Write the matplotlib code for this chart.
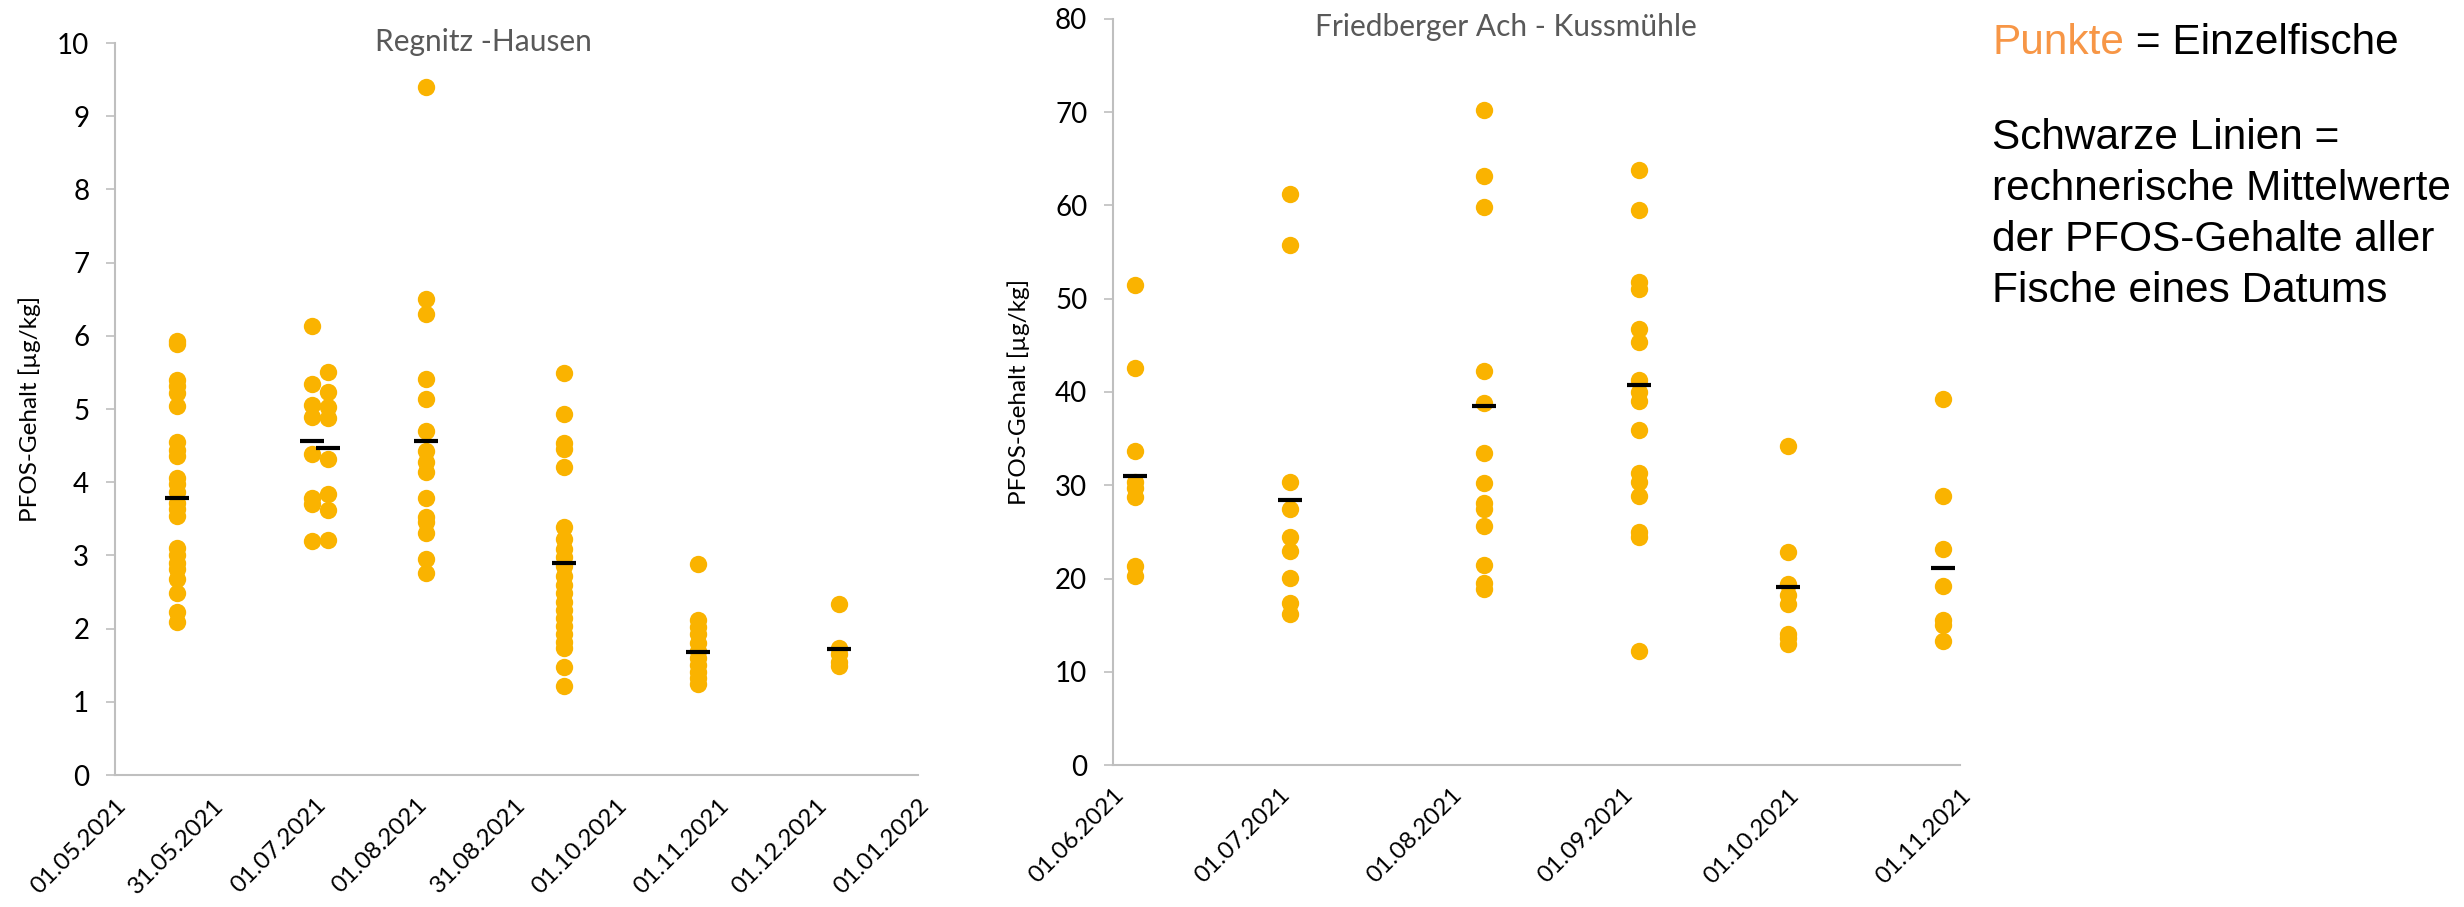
import datetime as dt

import matplotlib
matplotlib.use("Agg")
import matplotlib.pyplot as plt
from matplotlib.transforms import ScaledTranslation

plt.rcParams["font.family"] = ["Lato", "DejaVu Sans"]

DOT_COLOR = "#FAB300"
AXIS_COLOR = "#BFBFBF"
TITLE_COLOR = "#595959"

# Regnitz - Hausen: single fish per sampling date
regnitz_dates = ["20.05.2021", "30.06.2021", "05.07.2021", "04.08.2021",
                 "15.09.2021", "26.10.2021", "08.12.2021"]
regnitz_values = [
    [5.93, 5.89, 5.39, 5.32, 5.22, 5.04, 4.55, 4.44, 4.36, 4.06, 3.98, 3.87,
     3.72, 3.63, 3.54, 3.10, 3.01, 2.90, 2.81, 2.68, 2.48, 2.22, 2.09],
    [6.13, 5.34, 5.05, 4.89, 4.38, 3.79, 3.70, 3.20],
    [5.51, 5.23, 5.03, 4.88, 4.32, 3.84, 3.62, 3.21],
    [9.40, 6.50, 6.30, 5.41, 5.13, 4.70, 4.42, 4.28, 4.14, 3.78, 3.53, 3.46,
     3.30, 2.95, 2.76],
    [5.49, 4.93, 4.54, 4.45, 4.21, 3.39, 3.22, 3.09, 2.98, 2.85, 2.72, 2.60,
     2.48, 2.36, 2.25, 2.14, 2.03, 1.92, 1.82, 1.73, 1.47, 1.22],
    [2.88, 2.12, 2.02, 1.92, 1.81, 1.70, 1.60, 1.50, 1.41, 1.32, 1.25],
    [2.33, 1.73, 1.65, 1.55, 1.49],
]
regnitz_means = [3.78, 4.56, 4.47, 4.56, 2.89, 1.68, 1.72]
regnitz_ticks = ["01.05.2021", "31.05.2021", "01.07.2021", "01.08.2021",
                 "31.08.2021", "01.10.2021", "01.11.2021", "01.12.2021",
                 "01.01.2022"]

# Friedberger Ach - Kussmuehle
friedberg_dates = ["05.06.2021", "03.07.2021", "07.08.2021", "04.09.2021",
                   "01.10.2021", "29.10.2021"]
friedberg_values = [
    [51.5, 42.6, 33.7, 30.4, 29.7, 28.7, 21.3, 20.3],
    [61.2, 55.8, 30.3, 27.4, 24.4, 23.0, 20.1, 17.4, 16.2],
    [70.2, 63.2, 59.8, 42.2, 38.8, 33.5, 30.2, 28.1, 27.4, 25.6, 21.5, 19.5,
     18.9],
    [63.8, 59.5, 51.8, 51.0, 46.8, 45.4, 41.3, 40.0, 39.0, 35.9, 31.3, 30.3,
     28.8, 25.0, 24.5, 12.2],
    [34.2, 22.8, 19.4, 18.2, 17.3, 14.1, 13.6, 13.0],
    [39.2, 28.8, 23.2, 19.2, 15.5, 15.0, 13.3],
]
friedberg_means = [31.0, 28.4, 38.5, 40.7, 19.1, 21.1]
friedberg_ticks = ["01.06.2021", "01.07.2021", "01.08.2021", "01.09.2021",
                   "01.10.2021", "01.11.2021"]


def to_date(s):
    return dt.datetime.strptime(s, "%d.%m.%Y")


def draw_panel(ax, dates, values, means, ticks, ymax, ystep):
    for d, vals in zip(dates, values):
        ax.plot([to_date(d)] * len(vals), vals, "o", ms=12.5, color=DOT_COLOR,
                mec="none", zorder=2, clip_on=False)
    ax.plot([to_date(d) for d in dates], means, "_", ms=17, mew=3.0,
            color="black", zorder=3)

    tick_dates = [to_date(t) for t in ticks]
    ax.set_xlim(tick_dates[0], tick_dates[-1])
    ax.set_ylim(0, ymax)
    ax.set_yticks(range(0, ymax + 1, ystep))
    ax.set_xticks(tick_dates)
    ax.set_xticklabels(ticks, rotation=45, ha="right", rotation_mode="anchor",
                       fontsize=17.5)
    shift = ScaledTranslation(6 / 100, 0, ax.figure.dpi_scale_trans)
    for lbl in ax.get_xticklabels():
        lbl.set_transform(lbl.get_transform() + shift)

    for side in ("top", "right"):
        ax.spines[side].set_visible(False)
    for side in ("left", "bottom"):
        ax.spines[side].set_color(AXIS_COLOR)
        ax.spines[side].set_linewidth(1.5)
    ax.tick_params(axis="y", length=6.5, width=1.2, color=AXIS_COLOR,
                   pad=12, labelsize=20)
    ax.tick_params(axis="x", length=0, pad=14)


fig = plt.figure(figsize=(24.64, 9.07), dpi=100)
W, H = 2464, 907

ax1 = fig.add_axes([115 / W, 1 - 775 / H, 803 / W, 732 / H])
draw_panel(ax1, regnitz_dates, regnitz_values, regnitz_means, regnitz_ticks,
           10, 1)
ax2 = fig.add_axes([1113 / W, 1 - 765 / H, 847 / W, 746 / H])
draw_panel(ax2, friedberg_dates, friedberg_values, friedberg_means,
           friedberg_ticks, 80, 10)

fig.text(483 / W, 1 - 42 / H, "Regnitz -Hausen", ha="center", va="center",
         fontsize=21.5, color=TITLE_COLOR)
fig.text(1315 / W, 1 - 27 / H, "Friedberger Ach - Kussmühle", ha="left",
         va="center", fontsize=21.5, color=TITLE_COLOR)

fig.text(30 / W, 1 - 409 / H, "PFOS-Gehalt [µg/kg]", rotation=90,
         ha="center", va="center", fontsize=17.5)
fig.text(1019 / W, 1 - 392 / H, "PFOS-Gehalt [µg/kg]", rotation=90,
         ha="center", va="center", fontsize=17.5)

# explanation on the right
note_font = dict(family=["Liberation Sans", "DejaVu Sans"], fontsize=30.5,
                 va="baseline")
punkte = fig.text(1992 / W, 1 - 54 / H, "Punkte", color="#F79646", **note_font)
ax1.annotate(" = Einzelfische", xy=(1, 0), xycoords=punkte, ha="left",
             va="bottom", color="black", annotation_clip=False,
             family=["Liberation Sans", "DejaVu Sans"], fontsize=30.5)
note_lines = ["Schwarze Linien =", "rechnerische Mittelwerte",
              "der PFOS-Gehalte aller", "Fische eines Datums"]
for i, line in enumerate(note_lines):
    fig.text(1992 / W, 1 - (149 + 51 * i) / H, line, color="black",
             **note_font)

fig.savefig("out.png", dpi=100)
